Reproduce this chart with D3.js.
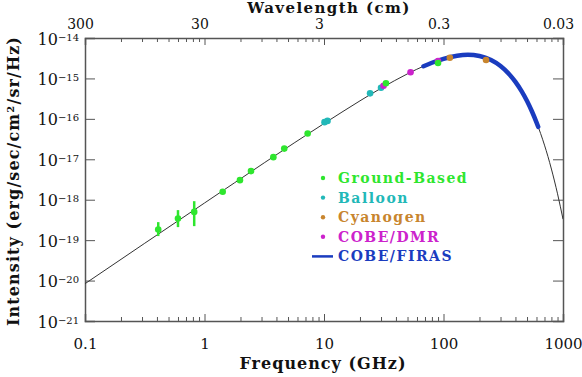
<!DOCTYPE html>
<html>
<head>
<meta charset="utf-8">
<script src="https://cdn.jsdelivr.net/npm/d3@7"></script>
<style>
  body { margin: 0; background: #fff; }
  svg { display: block; }
  .axis path, .axis line { stroke: #555; }
  .axis text { font-family: "DejaVu Serif", serif; fill: #111; }
  .title { font-family: "DejaVu Serif", serif; font-weight: bold; fill: #111; }
</style>
</head>
<body>
<script>
// blackbody curve
var curveFreq = [0.1, 1, 10, 20, 30, 50, 70, 100, 130, 160, 200, 250, 300, 350, 400, 450, 500, 550, 600, 650, 700, 800, 900, 1000];
var curveInt = [8.36e-21, 8.29e-19, 7.65e-17, 2.79e-16, 5.71e-16, 1.30e-15, 2.08e-15, 3.06e-15, 3.65e-15, 3.83e-15, 3.59e-15, 2.85e-15, 2.03e-15, 1.33e-15, 8.23e-16, 4.85e-16, 2.76e-16, 1.52e-16, 8.19e-17, 4.32e-17, 2.24e-17, 5.74e-18, 1.40e-18, 3.31e-19];

// COBE/FIRAS band
var firasFreq = [68, 80, 100, 130, 160, 200, 250, 300, 350, 400, 450, 500, 550, 600, 620];
var firasInt = [2.00e-15, 2.44e-15, 3.06e-15, 3.65e-15, 3.83e-15, 3.59e-15, 2.85e-15, 2.03e-15, 1.33e-15, 8.23e-16, 4.85e-16, 2.76e-16, 1.52e-16, 8.19e-17, 6.36e-17];

// ground based
var gbFreq = [0.41, 0.6, 0.82, 1.42, 1.98, 2.45, 3.77, 4.65, 7.3, 33, 90];
var gbInt = [1.84e-19, 3.44e-19, 5.0e-19, 1.58e-18, 3.05e-18, 5.1e-18, 1.13e-17, 1.84e-17, 4.33e-17, 7.57e-16, 2.40e-15];
var gbLo = [1.26e-19, 2.1e-19, 2.22e-19, null, null, null, null, null, null, null, null];
var gbHi = [2.79e-19, 5.53e-19, 9.2e-19, null, null, null, null, null, null, null, null];

var balloonFreq = [10.1, 10.7, 24.3, 30];
var balloonInt = [8.3e-17, 8.9e-17, 4.28e-16, 5.89e-16];

var cyanFreq = [113, 227];
var cyanInt = [3.25e-15, 2.85e-15];

var dmrFreq = [31.5, 53, 90];
var dmrInt = [6.6e-16, 1.42e-15, 2.7e-15];

var xTicks = [0.1, 1, 10, 100, 1000];
var yTicks = [1e-14, 1e-15, 1e-16, 1e-17, 1e-18, 1e-19, 1e-20, 1e-21];
var topLabels = ["300", "30", "3", "0.3", "0.03"];

var legendNames = ["Ground-Based", "Balloon", "Cyanogen", "COBE/DMR", "COBE/FIRAS"];
var colors = ["#2ee62e", "#22b8b8", "#c8852e", "#cc22cc", "#1a3cbf"];

var W = 582, H = 377;
var margin = {top: 38, right: 19, bottom: 56, left: 85};

var svg = d3.select("body").append("svg")
    .attr("width", W)
    .attr("height", H);

var x = d3.scaleLog().domain([0.1, 1000]).range([margin.left, W - margin.right]);
var y = d3.scaleLog().domain([1e-21, 1e-14]).range([H - margin.bottom, margin.top]);

// minor tick values (2..9 per decade)
var minor = [];
xTicks.slice(0, -1).forEach(function(t) {
    for (var k = 2; k <= 9; k++) minor.push(t * k);
});

var plotH = H - margin.bottom - margin.top;

svg.append("defs").append("clipPath").attr("id", "clip")
    .append("rect")
    .attr("x", margin.left).attr("y", margin.top)
    .attr("width", W - margin.left - margin.right)
    .attr("height", plotH);

// bottom axis
var bottomAx = svg.append("g").attr("class", "axis")
    .attr("transform", "translate(0," + (H - margin.bottom) + ")")
    .call(d3.axisBottom(x).tickValues(xTicks).tickSize(-7).tickPadding(17)
        .tickFormat(function(d) { return d < 1 ? d3.format(".1f")(d) : d3.format("d")(d); }));
bottomAx.selectAll("text").style("font-size", "15px");
bottomAx.select(".domain").attr("stroke-width", 1.5);
svg.append("g").attr("class", "axis")
    .attr("transform", "translate(0," + (H - margin.bottom) + ")")
    .call(d3.axisBottom(x).tickValues(minor).tickSize(-4).tickFormat(""))
    .select(".domain").remove();

// top axis (wavelength)
var topAx = svg.append("g").attr("class", "axis")
    .attr("transform", "translate(0," + margin.top + ")")
    .call(d3.axisTop(x).tickValues(xTicks).tickSize(-7).tickPadding(9)
        .tickFormat(function(d, i) { return topLabels[i]; }));
topAx.selectAll("text").style("font-size", "14px").attr("dx", -5);
topAx.select(".domain").attr("stroke-width", 1.5);
svg.append("g").attr("class", "axis")
    .attr("transform", "translate(0," + margin.top + ")")
    .call(d3.axisTop(x).tickValues(minor).tickSize(-4).tickFormat(""))
    .select(".domain").remove();

// left axis
var leftAx = svg.append("g").attr("class", "axis")
    .attr("transform", "translate(" + margin.left + ",0)")
    .call(d3.axisLeft(y).tickValues(yTicks).tickSize(-10).tickPadding(6).tickFormat(""));
leftAx.select(".domain").attr("stroke-width", 1.5);
leftAx.selectAll(".tick text").each(function(d) {
    var t = d3.select(this).attr("dy", "0.6em");
    t.append("tspan").style("font-size", "16px").text("10");
    t.append("tspan").style("font-size", "10px").attr("dy", "-0.4em").text("\u2212" + Math.round(-Math.log10(d)));
});

// right axis
var rightAx = svg.append("g").attr("class", "axis")
    .attr("transform", "translate(" + (W - margin.right) + ",0)")
    .call(d3.axisRight(y).tickValues(yTicks).tickSize(-10).tickFormat(""));
rightAx.select(".domain").attr("stroke-width", 1.5);

// axis titles
svg.append("text").attr("class", "title")
    .attr("x", 329).attr("y", 13)
    .attr("text-anchor", "middle")
    .style("font-size", "15px").style("letter-spacing", "1.4px")
    .text("Wavelength (cm)");

svg.append("text").attr("class", "title")
    .attr("x", 323).attr("y", 369)
    .attr("text-anchor", "middle")
    .style("font-size", "16px").style("letter-spacing", "1px")
    .text("Frequency (GHz)");

var ylab = svg.append("text").attr("class", "title")
    .attr("transform", "translate(19,181) rotate(-90)")
    .attr("text-anchor", "middle")
    .style("font-size", "16px").style("letter-spacing", "1.1px");
ylab.append("tspan").text("Intensity (erg/sec/cm");
ylab.append("tspan").attr("dy", "-0.55em").style("font-size", "10px").text("2");
ylab.append("tspan").attr("dy", "0.35em").text("/sr/Hz)");

var plot = svg.append("g").attr("clip-path", "url(#clip)");

var line = d3.line()
    .x(function(d) { return x(d[0]); })
    .y(function(d) { return y(d[1]); })
    .curve(d3.curveMonotoneX);

plot.append("path")
    .datum(d3.zip(curveFreq, curveInt))
    .attr("fill", "none")
    .attr("stroke", "#333")
    .attr("stroke-width", 1)
    .attr("d", line);

plot.append("path")
    .datum(d3.zip(firasFreq, firasInt))
    .attr("fill", "none")
    .attr("stroke", colors[4])
    .attr("stroke-width", 4.5)
    .attr("stroke-linecap", "round")
    .attr("d", line);

// error bars
var gb = gbFreq.map(function(f, i) { return {f: f, v: gbInt[i], lo: gbLo[i], hi: gbHi[i]}; });
plot.selectAll(".err")
    .data(gb.filter(function(d) { return d.lo !== null; }))
    .enter().append("line")
    .attr("x1", function(d) { return x(d.f); })
    .attr("x2", function(d) { return x(d.f); })
    .attr("y1", function(d) { return y(d.lo); })
    .attr("y2", function(d) { return y(d.hi); })
    .attr("stroke", colors[0])
    .attr("stroke-width", 2.5);

function dots(fr, vals, color) {
    plot.append("g").selectAll("circle")
        .data(d3.zip(fr, vals))
        .enter().append("circle")
        .attr("cx", function(d) { return x(d[0]); })
        .attr("cy", function(d) { return y(d[1]); })
        .attr("r", 3.3)
        .attr("fill", color);
}
dots(balloonFreq, balloonInt, colors[1]);
dots(cyanFreq, cyanInt, colors[2]);
dots(dmrFreq, dmrInt, colors[3]);
dots(gbFreq, gbInt, colors[0]);

// legend
var leg = svg.append("g");
legendNames.forEach(function(name, i) {
    var ly = 178 + i * 19.6;
    if (i < 4) {
        leg.append("circle").attr("cx", 323).attr("cy", ly).attr("r", 2.2).attr("fill", colors[i]);
    } else {
        leg.append("line").attr("x1", 312).attr("x2", 333).attr("y1", ly).attr("y2", ly)
            .attr("stroke", colors[i]).attr("stroke-width", 2.5);
    }
    leg.append("text").attr("class", "title")
        .attr("x", 338).attr("y", ly).attr("dy", "0.35em")
        .style("font-size", "14px").style("letter-spacing", "1.5px")
        .style("fill", colors[i])
        .text(name);
});
</script>
</body>
</html>
